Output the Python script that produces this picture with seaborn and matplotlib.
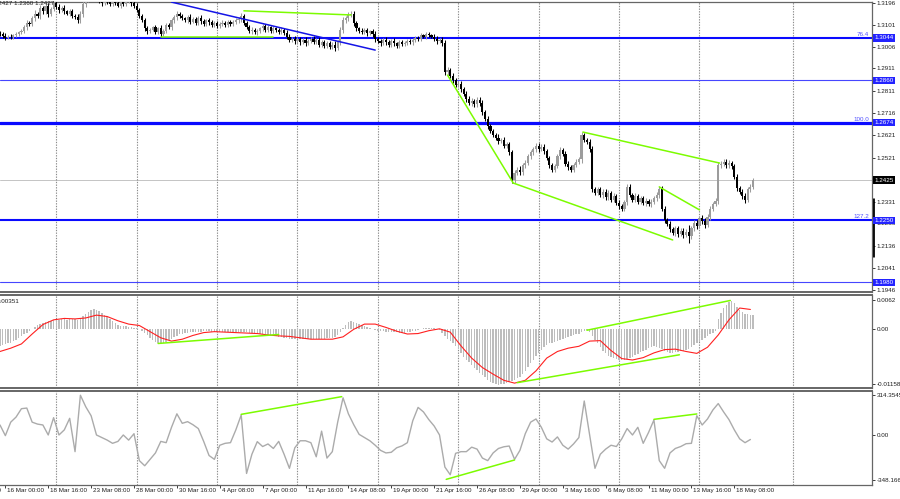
import numpy as np
import matplotlib
matplotlib.use("Agg")
import matplotlib.pyplot as plt
import matplotlib.transforms as mtransforms
import seaborn as sns

# H4 closes, one per candle
closes = [
    1.3060, 1.3052, 1.3045, 1.3050, 1.3048, 1.3056, 1.3060, 1.3068,
    1.3075, 1.3090, 1.3110, 1.3105, 1.3130,
    1.3150, 1.3140, 1.3175, 1.3160, 1.3185, 1.3150, 1.3170, 1.3195,
    1.3180, 1.3165, 1.3175, 1.3160, 1.3150,
    1.3160, 1.3140, 1.3135, 1.3120,
    1.3150, 1.3190, 1.3210,
    1.3225, 1.3240, 1.3230, 1.3220,
    1.3205, 1.3195, 1.3210, 1.3200, 1.3190, 1.3205, 1.3198, 1.3185, 1.3200, 1.3192, 1.3205, 1.3210, 1.3195, 1.3185,
    1.3165, 1.3140, 1.3120, 1.3085, 1.3075,
    1.3080, 1.3090, 1.3070, 1.3085, 1.3060,
    1.3075, 1.3100, 1.3090, 1.3120, 1.3135, 1.3150, 1.3140,
    1.3130, 1.3120, 1.3135, 1.3115, 1.3125, 1.3110, 1.3130, 1.3118, 1.3105, 1.3120, 1.3112, 1.3100,
    1.3108, 1.3095, 1.3105, 1.3110, 1.3100, 1.3112, 1.3105, 1.3115, 1.3120, 1.3125, 1.3140,
    1.3110, 1.3090, 1.3075, 1.3080, 1.3068, 1.3072, 1.3085,
    1.3095, 1.3080, 1.3090, 1.3075, 1.3085, 1.3078, 1.3070, 1.3080, 1.3065,
    1.3050, 1.3035, 1.3040, 1.3030,
    1.3038, 1.3025, 1.3035, 1.3020, 1.3030, 1.3040, 1.3028, 1.3035, 1.3015, 1.3025, 1.3010, 1.3020, 1.3005, 1.3015,
    1.3000, 1.3025,
    1.3080, 1.3120, 1.3130, 1.3145, 1.3150,
    1.3110, 1.3085, 1.3075,
    1.3070, 1.3078, 1.3065, 1.3072, 1.3060,
    1.3040, 1.3030, 1.3020, 1.3035, 1.3025, 1.3015, 1.3030, 1.3020, 1.3010, 1.3025, 1.3018,
    1.3020, 1.3030, 1.3025,
    1.3035, 1.3045, 1.3040, 1.3055, 1.3050, 1.3060, 1.3055, 1.3050,
    1.3040, 1.3030, 1.3035, 1.3020,
    1.2895,
    1.2905, 1.2880, 1.2860, 1.2840, 1.2845,
    1.2820, 1.2800, 1.2780, 1.2760, 1.2770, 1.2755,
    1.2775, 1.2760,
    1.2720, 1.2690, 1.2660, 1.2640, 1.2620,
    1.2610, 1.2595, 1.2600, 1.2575, 1.2580, 1.2545,
    1.2425,
    1.2455, 1.2470, 1.2460, 1.2490, 1.2500, 1.2530, 1.2545, 1.2560,
    1.2575, 1.2560, 1.2570, 1.2550, 1.2520,
    1.2490, 1.2470, 1.2485, 1.2530, 1.2555, 1.2540, 1.2495, 1.2480, 1.2470, 1.2490, 1.2505, 1.2515,
    1.2620, 1.2600, 1.2590, 1.2560,
    1.2385,
    1.2370, 1.2385, 1.2360, 1.2375, 1.2350, 1.2370, 1.2340, 1.2355, 1.2325,
    1.2310, 1.2300, 1.2330, 1.2395, 1.2360,
    1.2340, 1.2355, 1.2330, 1.2345, 1.2325, 1.2335, 1.2320, 1.2330, 1.2345, 1.2360,
    1.2385,
    1.2300, 1.2250, 1.2235, 1.2210,
    1.2195, 1.2215, 1.2190, 1.2205, 1.2185, 1.2200, 1.2180,
    1.2215, 1.2240, 1.2225, 1.2260, 1.2245, 1.2230,
    1.2265, 1.2300, 1.2320, 1.2335,
    1.2490,
    1.2495, 1.2505, 1.2490, 1.2500, 1.2485,
    1.2440, 1.2390, 1.2375,
    1.2355, 1.2340, 1.2385, 1.2395,
    1.2425,
]
first_open = 1.3065

# shadow length beyond the body, in pips
wicks = [
    8, 10, 12, 6, 9, 7, 10, 8, 9, 11, 12, 8, 10, 14, 9, 12, 10, 11, 13, 9,
    10, 8, 12, 9, 11, 7, 10, 9, 8, 12, 10, 14, 11, 9, 10, 12, 8, 9, 11, 7,
    10, 8, 9, 12, 7, 10, 8, 11, 9, 12, 10, 9, 11, 8, 10, 13, 9, 8, 10, 7,
    14, 9, 11, 8, 10, 9, 12, 8, 10, 7, 9, 11, 8, 10, 9, 12, 7, 8, 10, 9,
    8, 10, 9, 11, 7, 9, 10, 8, 12, 9, 11, 10, 8, 9, 12, 7, 10, 8, 9, 11,
    9, 8, 10, 7, 9, 11, 8, 12, 10, 9, 13, 8, 10, 9, 11, 8, 10, 12, 9, 11,
    10, 8, 12, 9, 11, 15, 10, 12, 14, 9, 11, 10, 12, 9, 8, 10, 9, 11, 8, 10,
    12, 9, 10, 8, 11, 9, 10, 12, 8, 9, 11, 10, 8, 9, 10, 7, 9, 11, 8, 10,
    9, 8, 10, 12, 9, 11, 14, 12, 10, 13, 9, 11, 12, 10, 14, 9, 12, 10, 13, 11,
    12, 10, 13, 11, 9, 12, 14, 10, 12, 11, 9, 13, 12, 10, 14, 11, 12, 10, 13, 9,
    11, 12, 10, 13, 9, 11, 10, 12, 9, 14, 11, 10, 12, 9, 11, 10, 12, 15, 11, 10,
    12, 13, 10, 11, 9, 12, 10, 11, 9, 12, 10, 13, 11, 10, 14, 11, 10, 12, 9, 11,
    10, 12, 9, 11, 10, 12, 13, 12, 10, 11, 13, 10, 12, 11, 9, 12, 10, 30, 11, 10,
    12, 10, 11, 13, 10, 12, 11, 10, 14, 12, 10, 11, 13, 10, 12, 11, 10, 12, 13, 10,
    11, 10,
]

# MACD histogram, one per candle, in units of 0.0001
macd_hist = [
    -36, -34, -32, -30, -28, -25, -22, -19,
    -15, -11, -7, -3, 1, 5, 9,
    12, 14, 16, 17, 18, 19, 20, 20, 21, 21, 20, 21, 22, 21, 20,
    24, 28, 32, 36, 40, 42, 41,
    38, 34, 30, 26, 22, 18, 14, 10,
    8, 7, 6, 5, 4, 3, 2, 0,
    -4, -8, -13, -18, -22, -26, -29, -30,
    -28, -26, -23, -20, -17, -14, -11,
    -9, -8, -7, -6, -6, -5, -5, -5,
    -4, -4, -4, -5, -5, -5, -6, -5, -5, -6, -6, -5, -5, -6, -6, -5, -6, -7, -8, -9, -10, -10,
    -10, -11, -12, -13, -14, -15, -16,
    -17, -18, -19, -20, -20, -21, -21, -21, -20, -21, -21, -21, -20, -20, -21, -20, -20, -19, -19, -18, -16, -12,
    -6, 2, 10, 15, 17,
    15, 13, 11, 9, 7, 5, 2,
    0, -2, -3, -4, -4, -5, -5, -5, -6, -6, -7,
    -7, -7, -6, -5, -4, -3, -1,
    1, 2, 3, 3, 3, 2, 1,
    -2, -8, -14, -20,
    -25, -30, -36, -42,
    -50, -58, -64, -70, -76, -82, -86,
    -92, -97, -102, -107, -111, -114, -116, -117,
    -116, -115, -113, -111, -109, -108, -104, -100,
    -94, -88, -80, -72, -64, -57, -50,
    -43, -38, -34, -30, -28, -26, -25, -23,
    -21, -19, -17, -15, -13, -11, -9, -6, -3,
    -1, -5,
    -14, -22, -30, -38, -45, -51, -56,
    -59, -61, -63, -64, -65, -64, -62, -60,
    -58, -55, -52, -49, -46, -43, -40, -38,
    -36, -37, -39, -42, -46, -49,
    -50, -50, -49, -48, -47, -45, -44, -42,
    -38, -34, -30, -26, -22, -18, -14, -10,
    -7, -3,
    21, 34, 45, 52, 58,
    59, 55, 48, 41, 36,
    33, 32, 31, 30,
]

# MACD signal line, every 4th candle, in units of 0.0001
macd_signal = [
    -47, -40, -31, -10, 10, 20, 23, 22, 24, 30,
    27, 18, 11, 8, -5, -18, -25, -21, -13, -7,
    -5, -6, -7, -8, -9, -12, -14, -15, -18, -21,
    -21, -21, -16, 0, 11, 11, 4, -4, -10, -9,
    -3, 1, -6, -35, -61, -81, -95, -108, -114, -108,
    -88, -61, -47, -40, -36, -25, -24, -45, -62, -65,
    -60, -50, -43, -42, -47, -51, -38, -12, 20, 45,
    42,
]

# CCI, every 2nd candle
cci = [
    78, -5, 100, 140, 205, 210, 100, 85, 78, 0,
    135, 0, 40, 130, -130, 310, 220, 150, 0, -20,
    -40, -65, -50, 0, -40, 10, -200, -240, -190, -140,
    -50, -60, 60, 165, 91, 104, 80, 50, -50, -160,
    -190, -80, -65, -60, 40, 156, -300, -150, -52, -90,
    -70, -105, -50, -150, -260, -100, -45, -45, -60, -170,
    30, -180, -130, 100, 290, 165, 80, 5, -20, -45,
    -80, -120, -140, -135, -100, -85, -60, 110, 215, 180,
    120, 70, 0, -250, -310, -143, -130, -130, -95, -110,
    -180, -200, -140, -105, -92, -86, -190, -120, 10, 100,
    125, 60, -30, -55, -15, -80, -110, -70, -20, 265,
    0, -260, -150, -110, -80, -90, -30, 50, 0, 60,
    -65, 20, 117, -200, -260, -140, -105, -90, -68, -65,
    150, 78, 125, 195, 245, 180, 120, 40, -30, -60,
    -35,
]

price_ticks = [1.3196, 1.3101, 1.3006, 1.2911, 1.2811, 1.2716, 1.2621, 1.2521,
               1.2331, 1.2236, 1.2136, 1.2041, 1.1946]
levels = [1.3044, 1.2860, 1.2674, 1.2250, 1.1980]
level_lw = [1.5, 0.8, 2.3, 1.5, 0.8]
fib_text = ["76.4", "", "100.0", "127.2", ""]
last_price = 1.2425

macd_ticks = [0.0062, 0.0, -0.01158]
macd_labels = ["0.0062", "0.00", "-0.01158"]
cci_ticks = [314.3545, 0.0, -348.166]
cci_labels = ["314.3545", "0.00", "-348.166"]

date_bars = [-14, 2, 18, 34, 50, 66, 82, 98, 114, 130, 146, 162, 178, 194, 210,
             226, 242, 258, 274]
date_labels = ["12 Mar 08:00", "16 Mar 00:00", "18 Mar 16:00", "23 Mar 08:00",
               "28 Mar 00:00", "30 Mar 16:00", "4 Apr 08:00", "7 Apr 00:00",
               "11 Apr 16:00", "14 Apr 08:00", "19 Apr 00:00", "21 Apr 16:00",
               "26 Apr 08:00", "29 Apr 00:00", "3 May 16:00", "6 May 08:00",
               "11 May 00:00", "13 May 16:00", "18 May 08:00"]
grid_bars = [21, 51, 81, 111, 141, 171, 201, 231, 261, 296]

# hand drawn lines: (bars, values)
blue_trend = ([64, 140], [1.3200, 1.2991])
green_price = [([91, 131], [1.3162, 1.3144]),
               ([60, 102], [1.3049, 1.3049]),
               ([167, 191.5], [1.2882, 1.2412]),
               ([191.5, 251], [1.2412, 1.2164]),
               ([217.5, 268.5], [1.2634, 1.2499]),
               ([246, 261], [1.2395, 1.2295])]
green_macd = [([59, 104], [-0.0030, -0.0011]),
              ([219, 272.5], [-0.0002, 0.0061]),
              ([193, 253.5], [-0.0113, -0.0054])]
green_cci = [([90, 127.5], [161, 299]),
             ([166.5, 192], [-346, -195]),
             ([244, 260], [122, 164])]

sns.set_style("white")
plt.rcParams['font.family'] = ['Liberation Sans', 'DejaVu Sans']
FS = 4.5
TXT = "#1e1e1e"
BLUE = "#0a0aff"
GREEN = "#7CFC00"

fig = plt.figure(figsize=(9, 4.99), dpi=100)
W, H = 900.0, 499.0
def panel(top, bottom):
    return fig.add_axes([0, 1 - bottom / H, 872 / W, (bottom - top) / H])
ax1 = panel(2, 292)
ax2 = panel(295, 388)
ax3 = panel(391, 485)

n = len(closes)
xmax = 872 / 2.68
x = np.arange(n)
c = np.array(closes)
o = np.r_[first_open, c[:-1]]
w = np.array(wicks) * 1e-4
hi = np.maximum(o, c) + w
lo = np.minimum(o, c) - w
cols = np.where(c >= o, "#9c9c9c", "#000000")
ax1.vlines(x, lo, hi, colors=cols, lw=0.75, zorder=3)
ax1.bar(x, np.maximum(np.abs(c - o), 0.00018), bottom=np.minimum(o, c),
        width=0.8, color=cols, linewidth=0, zorder=3)

for lv, lw, ft in zip(levels, level_lw, fib_text):
    col = BLUE if lw > 1 else "#4646ff"
    ax1.axhline(lv, color=col, lw=lw, zorder=2)
    if ft:
        ax1.text(0.997, lv + 0.0004, ft, transform=ax1.get_yaxis_transform(),
                 ha="right", va="bottom", fontsize=FS, color="#5050ff")
    ax1.text(1.003, lv, f"{lv:.4f}", transform=ax1.get_yaxis_transform(),
             ha="left", va="center", fontsize=FS, color="white", clip_on=False,
             zorder=5, bbox=dict(boxstyle="square,pad=0.18", fc="#2323ff", ec="none"))
ax1.axhline(last_price, color="#c4c4c4", lw=0.7, zorder=1)
ax1.text(1.003, last_price, f"{last_price:.4f}", transform=ax1.get_yaxis_transform(),
         ha="left", va="center", fontsize=FS, color="white", clip_on=False, zorder=5,
         bbox=dict(boxstyle="square,pad=0.18", fc="black", ec="none"))
ax1.plot([1.0015, 1.0015], [0.121, 0.324], transform=ax1.transAxes, color="black",
         lw=2.0, clip_on=False, solid_capstyle="butt")

ax1.plot(*blue_trend, color="#1414e6", lw=1.1, zorder=4)
for bx, by in green_price:
    ax1.plot(bx, by, color=GREEN, lw=1.1, zorder=4)
ax1.text(-2.6, 1.3186, "1.2427 1.2360 1.2427", fontsize=FS, color=TXT, zorder=6)

# MACD
ax2.bar(np.arange(len(macd_hist)), np.array(macd_hist) * 1e-4, width=0.55,
        color="#bdbdbd", linewidth=0, zorder=2)
sns.lineplot(x=np.arange(0, 4 * len(macd_signal), 4), y=np.array(macd_signal) * 1e-4,
             ax=ax2, color="#ff2020", lw=0.8, zorder=3)
for bx, by in green_macd:
    ax2.plot(bx, by, color=GREEN, lw=1.1, zorder=4)
ax2.text(-1.2, 0.0055, "0.00351", fontsize=FS, color=TXT)

# CCI
sns.lineplot(x=np.arange(0, 2 * len(cci), 2), y=cci, ax=ax3, color="#ababab",
             lw=1.0, zorder=3)
for bx, by in green_cci:
    ax3.plot(bx, by, color=GREEN, lw=1.1, zorder=4)

ax1.set_ylim(1.19374, 1.32004)
ax2.set_ylim(-0.01243, 0.00726)
ax3.set_ylim(-390, 343)
ax1.set_yticks(price_ticks, [f"{t:.4f}" for t in price_ticks])
ax2.set_yticks(macd_ticks, macd_labels)
ax3.set_yticks(cci_ticks, cci_labels)

for ax in (ax1, ax2, ax3):
    ax.set_xlim(0, xmax)
    ax.set_xlabel("")
    ax.set_ylabel("")
    ax.yaxis.tick_right()
    ax.tick_params(axis="y", length=2.2, width=0.6, pad=1.0, labelsize=FS,
                   colors=TXT, right=True, left=False)
    for gb in grid_bars:
        ax.axvline(gb, color="#8c8c8c", lw=0.8, ls=(0, (1.2, 1.2)), zorder=1)
    ax.spines["left"].set_visible(False)
    for s in ("top", "right", "bottom"):
        ax.spines[s].set_color("#666666")
        ax.spines[s].set_linewidth(0.9)
for ax in (ax1, ax2):
    ax.set_xticks([])
ax2.spines["top"].set_linewidth(1.4)
ax3.spines["top"].set_linewidth(1.4)
ax1.spines["bottom"].set_linewidth(1.4)
ax2.spines["bottom"].set_linewidth(1.4)

ax3.set_xticks([b for b in date_bars if b >= 0], [])
ax3.tick_params(axis="x", length=2, width=0.6, colors=TXT, bottom=True)
off = mtransforms.ScaledTranslation(2 / 100, -3 / 100, fig.dpi_scale_trans)
tr = ax3.get_xaxis_transform() + off
for b, lab in zip(date_bars, date_labels):
    ax3.text(b, 0, lab, transform=tr, ha="left", va="top", fontsize=FS,
             color=TXT, clip_on=False)

fig.savefig("out.png", dpi=100, facecolor="white")
